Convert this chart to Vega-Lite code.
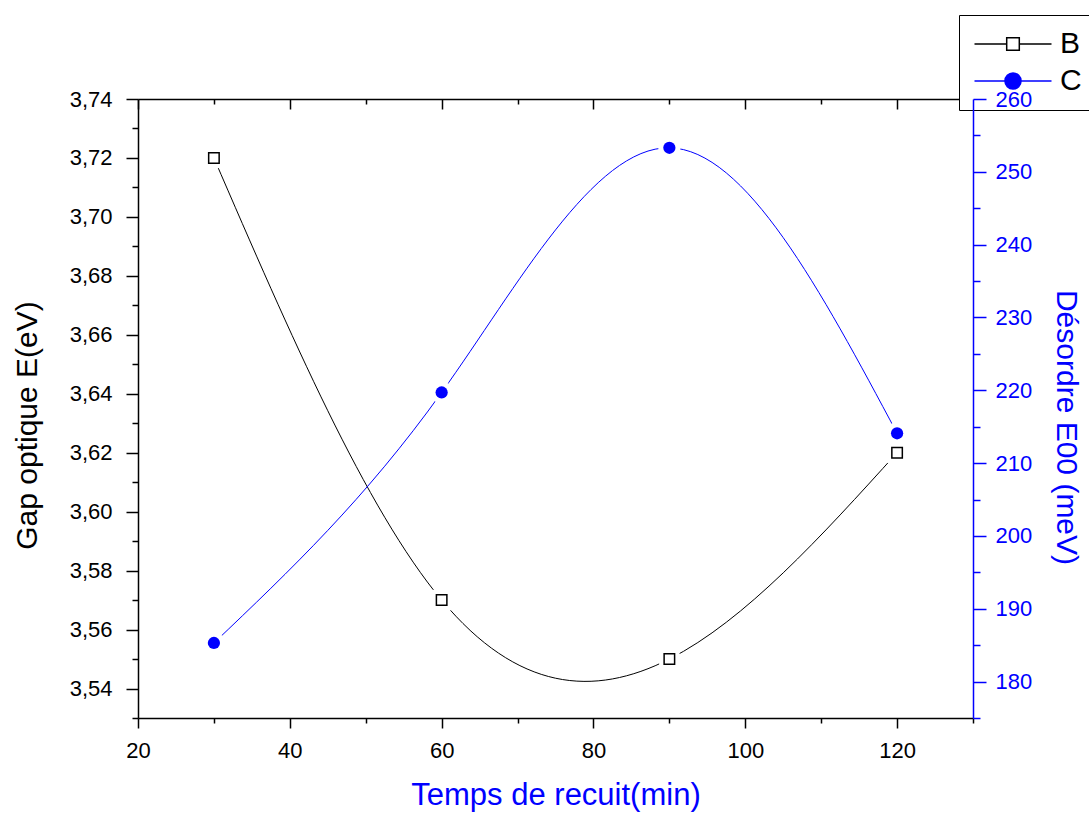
{
  "$schema": "https://vega.github.io/schema/vega-lite/v6.json",
  "width": 835,
  "height": 619,
  "autosize": {"type": "none"},
  "padding": {"left": 138, "top": 99, "right": 116, "bottom": 96},
  "background": "white",
  "config": {
    "view": {"stroke": null},
    "font": "Liberation Sans",
    "axis": {
      "grid": false,
      "labelFont": "Liberation Sans",
      "titleFont": "Liberation Sans",
      "labelFontSize": 22,
      "titleFontSize": 30,
      "titleFontWeight": "normal",
      "labelOverlap": false,
      "labelFlush": false,
      "labelBound": false,
      "domainWidth": 1.5,
      "tickWidth": 1.5
    }
  },
  "data": {
    "values": [
      {"t": 30, "gap": 3.72, "dis": 185.3},
      {"t": 60, "gap": 3.57, "dis": 219.7},
      {"t": 90, "gap": 3.55, "dis": 253.3},
      {"t": 120, "gap": 3.62, "dis": 214.1}
    ]
  },
  "layer": [
    {
      "encoding": {
        "x": {
          "field": "t",
          "type": "quantitative",
          "scale": {"domain": [20, 130], "nice": false, "zero": false},
          "axis": {
            "orient": "bottom",
            "values": [20, 30, 40, 50, 60, 70, 80, 90, 100, 110, 120, 130],
            "tickSize": {"condition": {"test": "datum.value % 20 === 0", "value": 10}, "value": 5},
            "labelExpr": "datum.value % 20 === 0 ? datum.label : ''",
            "labelPadding": 12,
            "labelColor": "black",
            "domainColor": "black",
            "tickColor": "black",
            "title": "Temps de recuit(min)",
            "titleColor": "#0000ff",
            "titleFontSize": 31,
            "titlePadding": 19,
            "zindex": 1
          }
        },
        "y": {
          "field": "gap",
          "type": "quantitative",
          "scale": {"domain": [3.53, 3.74], "nice": false, "zero": false},
          "axis": {
            "orient": "left",
            "values": [3.53, 3.54, 3.55, 3.56, 3.57, 3.58, 3.59, 3.6, 3.61, 3.62, 3.63, 3.64, 3.65, 3.66, 3.67, 3.68, 3.69, 3.7, 3.71, 3.72, 3.73, 3.74],
            "tickSize": {"condition": {"test": "round(datum.value*100) % 2 === 0", "value": 12}, "value": 6},
            "labelExpr": "round(datum.value*100) % 2 === 0 ? replace(format(datum.value, '.2f'), '.', ',') : ''",
            "labelPadding": 14,
            "labelColor": "black",
            "domainColor": "black",
            "tickColor": "black",
            "title": "Gap optique E(eV)",
            "titleColor": "black",
            "titlePadding": 27,
            "titleY": 326,
            "zindex": 1
          }
        }
      },
      "layer": [
        {
          "mark": {"type": "line", "interpolate": "natural", "strokeWidth": 1},
          "encoding": {
            "color": {
              "datum": "B",
              "scale": {"domain": ["B", "C"], "range": ["black", "#0000ff"]},
              "legend": {
                "title": null,
                "orient": "none",
                "legendX": 821,
                "legendY": -84,
                "zindex": 2,
                "strokeColor": "black",
                "fillColor": "white",
                "padding": 14,
                "labelFontSize": 30,
                "labelFont": "Liberation Sans",
                "labelColor": "black",
                "symbolOffset": 25,
                "labelOffset": 32,
                "rowPadding": 7,
                "symbolSize": 196,
                "symbolStrokeWidth": 1.5,
                "encode": {
                  "symbols": {
                    "update": {
                      "shape": {"signal": "datum.value === 'B' ? 'M-5.5,0H-0.9M0.9,0H5.5M-0.9,-0.9H0.9V0.9H-0.9Z' : 'M-5.5,0H5.5M-1.15,0A1.15,1.15 0 1,0 1.15,0A1.15,1.15 0 1,0 -1.15,0Z'"},
                      "fill": {"signal": "datum.value === 'B' ? 'white' : '#0000ff'"},
                      "stroke": {"signal": "datum.value === 'B' ? 'black' : '#0000ff'"},
                      "strokeWidth": {"value": 1.5},
                      "opacity": {"value": 1}
                    }
                  }
                }
              }
            }
          }
        },
        {
          "mark": {"type": "point", "shape": "square", "filled": true, "color": "white", "size": 420, "opacity": 1}
        },
        {
          "mark": {"type": "point", "shape": "square", "filled": false, "fill": "white", "stroke": "black", "strokeWidth": 1.5, "size": 110, "opacity": 1}
        }
      ]
    },
    {
      "encoding": {
        "x": {
          "field": "t",
          "type": "quantitative",
          "scale": {"domain": [20, 130], "nice": false, "zero": false},
          "axis": {
            "orient": "top",
            "values": [20, 30, 40, 50, 60, 70, 80, 90, 100, 110, 120, 130],
            "tickSize": {"condition": {"test": "datum.value % 20 === 0", "value": -10}, "value": -5},
            "labels": false,
            "domainColor": "black",
            "tickColor": "black",
            "title": null,
            "zindex": 1
          }
        },
        "y": {
          "field": "dis",
          "type": "quantitative",
          "scale": {"domain": [175, 260], "nice": false, "zero": false},
          "axis": {
            "orient": "right",
            "values": [175, 180, 185, 190, 195, 200, 205, 210, 215, 220, 225, 230, 235, 240, 245, 250, 255, 260],
            "tickSize": {"condition": {"test": "datum.value % 10 === 0", "value": 13}, "value": 7},
            "labelExpr": "datum.value % 10 === 0 ? datum.label : ''",
            "labelPadding": 9,
            "labelColor": "#0000ff",
            "domainColor": "#0000ff",
            "tickColor": "#0000ff",
            "title": "Désordre E00 (meV)",
            "titleColor": "#0000ff",
            "titlePadding": 19,
            "titleY": 328,
            "zindex": 3
          }
        }
      },
      "layer": [
        {
          "mark": {"type": "line", "interpolate": "natural", "strokeWidth": 1},
          "encoding": {"color": {"datum": "C"}}
        },
        {
          "mark": {"type": "point", "shape": "circle", "filled": true, "color": "white", "size": 490, "opacity": 1}
        },
        {
          "mark": {"type": "point", "shape": "circle", "filled": true, "color": "#0000ff", "size": 150, "opacity": 1}
        }
      ]
    }
  ],
  "resolve": {"scale": {"y": "independent"}, "axis": {"x": "independent"}}
}
